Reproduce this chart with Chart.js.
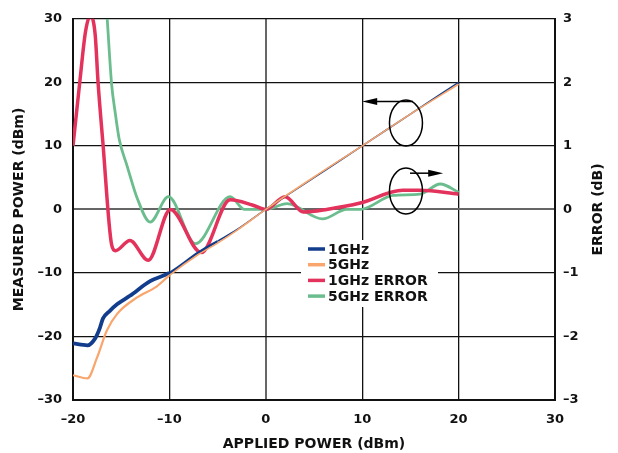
<!DOCTYPE html>
<html>
<head>
<meta charset="utf-8">
<script src="https://cdn.jsdelivr.net/npm/chart.js@4.4.1/dist/chart.umd.min.js"></script>
<style>
  html, body { margin: 0; padding: 0; background: #fff; }
  #wrap { width: 618px; height: 453px; }
</style>
</head>
<body>
<div id="wrap"><canvas id="chart" width="618" height="453"></canvas></div>
<script>
/* data */
let labels = ["1GHz", "5GHz", "1GHz ERROR", "5GHz ERROR"];
let xTicks = [-20, -10, 0, 10, 20, 30];

// measured power (dBm), left axis
let p1X = [-20, -18.5, -17.7, -17.2, -16.9, -16.2, -15.4, -14.1, -12.0, -10, -7, -5, -3, 0, 5, 10, 15, 20];
let p1Y = [-21.1, -21.4, -20.3, -18.6, -17.2, -16.0, -14.9, -13.6, -11.3, -10, -6.8, -5.0, -3.2, 0, 5.0, 10, 15, 20];
let p5X = [-20, -18.5, -17.5, -16.5, -15.4, -13.4, -11.3, -10, -7, -5, -3, 0, 5, 10, 15, 20];
let p5Y = [-26.1, -26.6, -23.3, -19.1, -16.4, -13.9, -12.1, -10.4, -7.1, -5.3, -3.3, 0, 5.1, 10, 15, 19.7];

// error (dB), right axis
let e1X = [-20, -19.3, -18.7, -18.2, -17.7, -17.4, -16.9, -16.0, -15.6, -14.1, -12.2, -9.9, -6.7, -3.7, -1.4, 0, 2.0, 3.9, 6.3, 9.8, 14.2, 16.0, 20];
let e1Y = [1.0, 2.0, 2.8, 3.05, 2.75, 2.0, 1.05, -0.55, -0.65, -0.49, -0.80, 0.0, -0.68, 0.15, 0.07, 0, 0.2, -0.04, 0.0, 0.1, 0.3, 0.3, 0.24];
let e5X = [-16.45, -16.0, -15.6, -15.2, -14.4, -13.3, -12.0, -10.1, -7.3, -3.7, -2.2, 0, 2.2, 5.9, 8.4, 9.8, 13.2, 16.0, 18.1, 20];
let e5Y = [3.0, 1.98, 1.5, 1.1, 0.69, 0.16, -0.2, 0.2, -0.54, 0.2, 0.0, 0, 0.09, -0.15, 0, 0.0, 0.22, 0.24, 0.4, 0.27];

let colors = ["#123d8c", "#f9a56c", "#e3325b", "#6bbd8e"];

function pts(xs, ys){ return xs.map((x,i)=>({x:x, y:ys[i]})); }
function minus(v){ return String(v).replace("-", "\u2013"); }

Chart.defaults.font.family = "'DejaVu Sans', sans-serif";
Chart.defaults.font.weight = "bold";
Chart.defaults.font.size = 13;
Chart.defaults.color = "#111";

/* legend box, right axis title, ellipses + arrows */
let extras = {
    id: "extras",
    afterDatasetsDraw(chart){
        let c = chart.ctx, xs = chart.scales.x, ys = chart.scales.y;
        c.save();

        // legend
        c.fillStyle = "#fff";
        c.fillRect(301, 240, 137, 67);
        c.font = "bold 14px 'DejaVu Sans'";
        c.textBaseline = "middle";
        labels.forEach((t,i)=>{
            let y = 249 + i*15.7;
            c.strokeStyle = colors[i];
            c.lineWidth = 3.5;
            c.beginPath(); c.moveTo(308, y); c.lineTo(325, y); c.stroke();
            c.fillStyle = "#111";
            c.fillText(t, 328, y + 1);
        });

        // ellipses with arrows
        c.strokeStyle = "#000";
        c.fillStyle = "#000";
        c.lineWidth = 1.5;
        function oval(x, y){
            c.beginPath();
            c.ellipse(xs.getPixelForValue(x), ys.getPixelForValue(y), 16.5, 23, 0, 0, Math.PI*2);
            c.stroke();
        }
        function arrow(x0, x1, y){
            let px0 = xs.getPixelForValue(x0), px1 = xs.getPixelForValue(x1), py = ys.getPixelForValue(y);
            let d = px1 > px0 ? 1 : -1;
            c.beginPath(); c.moveTo(px0, py); c.lineTo(px1 - d*12, py); c.stroke();
            c.beginPath();
            c.moveTo(px1, py); c.lineTo(px1 - d*15, py - 3.5); c.lineTo(px1 - d*15, py + 3.5);
            c.closePath(); c.fill();
        }
        oval(14.54, 13.6);
        arrow(15.27, 10, 17.0);
        oval(14.54, 2.9);
        arrow(14.96, 18.4, 5.7);

        // right title reads bottom to top
        c.font = "bold 14px 'DejaVu Sans'";
        c.fillStyle = "#111";
        c.textAlign = "center";
        c.translate(598, (chart.chartArea.top + chart.chartArea.bottom)/2);
        c.rotate(-Math.PI/2);
        c.fillText("ERROR (dB)", 0, 0);
        c.restore();
    }
};

let gridColor = ctx => ctx.tick && ctx.tick.value === 0 ? "#666" : "#111";
let gridWidth = ctx => ctx.tick && ctx.tick.value === 0 ? 2 : 1.3;

new Chart(document.getElementById("chart"), {
    type: "line",
    data: {
        datasets: [
            { label: labels[0], data: pts(p1X, p1Y), yAxisID: "y", borderColor: colors[0], order: 3,
              borderWidth: 1.6,
              segment: { borderWidth: ctx => ctx.p0.parsed.x < -10 ? 3.8 : (ctx.p0.parsed.x < -5 ? 2.4 : 1.6) } },
            { label: labels[1], data: pts(p5X, p5Y), yAxisID: "y", borderColor: colors[1], order: 2,
              borderWidth: 1.6,
              segment: { borderWidth: ctx => ctx.p0.parsed.x < -10 ? 2.2 : 1.6 } },
            { label: labels[2], data: pts(e1X, e1Y), yAxisID: "y1", borderColor: colors[2], order: 4, borderWidth: 3.5 },
            { label: labels[3], data: pts(e5X, e5Y), yAxisID: "y1", borderColor: colors[3], order: 5, borderWidth: 2.8 }
        ]
    },
    options: {
        responsive: false,
        animation: false,
        devicePixelRatio: 1,
        layout: { padding: { top: 15, left: 0, right: 0, bottom: 0 } },
        elements: {
            point: { radius: 0 },
            line: { cubicInterpolationMode: "monotone", fill: false }
        },
        plugins: { legend: { display: false }, tooltip: { enabled: false } },
        scales: {
            x: {
                type: "linear", min: -20, max: 30,
                afterBuildTicks: s => { s.ticks = xTicks.map(v => ({value: v})); },
                afterFit: s => { s.height = 53; },
                ticks: { callback: minus, padding: 12, maxRotation: 0 },
                grid: { color: gridColor, lineWidth: gridWidth, drawTicks: false },
                border: { color: "#111", width: 2 },
                title: { display: true, text: "APPLIED POWER (dBm)", font: { size: 14, weight: "bold" }, padding: { top: 1, bottom: 0 } }
            },
            y: {
                position: "left", min: -30, max: 30,
                ticks: { stepSize: 10, callback: minus, padding: 11 },
                afterFit: s => { s.width = 73; },
                grid: { color: gridColor, lineWidth: gridWidth, drawTicks: false },
                border: { color: "#111", width: 2 },
                title: { display: true, text: "MEASURED POWER (dBm)", font: { size: 14, weight: "bold" }, padding: { top: 11, bottom: 0 } }
            },
            y1: {
                position: "right", min: -3, max: 3,
                ticks: { stepSize: 1, callback: minus, padding: 8 },
                afterFit: s => { s.width = 63; },
                grid: { display: false, drawTicks: false },
                border: { color: "#111", width: 2 }
            }
        }
    },
    plugins: [extras]
});
</script>
</body>
</html>
